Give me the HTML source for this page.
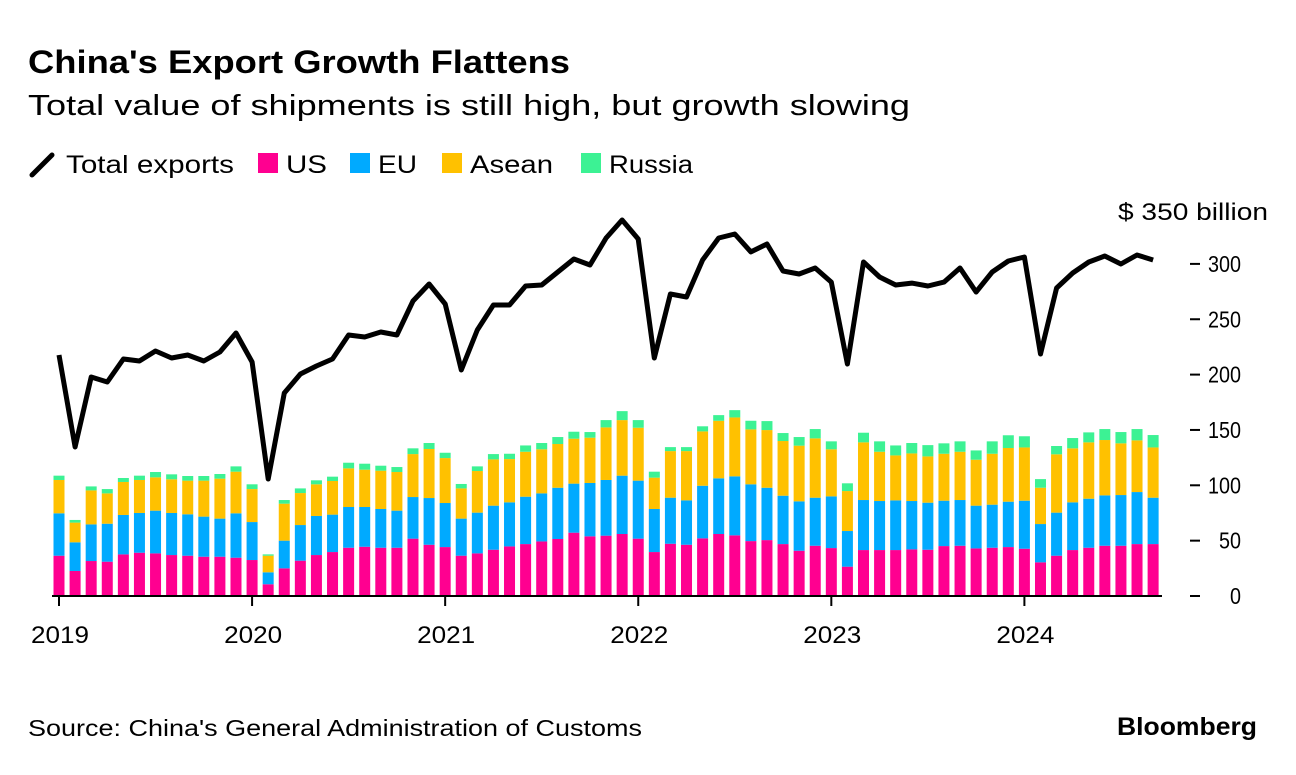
<!DOCTYPE html>
<html><head><meta charset="utf-8"><style>
body{margin:0;background:#fff;font-family:"Liberation Sans",Arial,sans-serif;}
svg text{font-family:"Liberation Sans",Arial,sans-serif;}
</style></head><body>
<svg id="chart" width="1296" height="770" viewBox="0 0 1296 770" xmlns="http://www.w3.org/2000/svg">
<text x="28" y="73" font-size="32" font-weight="bold" fill="#000" textLength="542" lengthAdjust="spacingAndGlyphs">China's Export Growth Flattens</text>
<text x="28" y="115" font-size="29" fill="#000" textLength="882" lengthAdjust="spacingAndGlyphs">Total value of shipments is still high, but growth slowing</text>
<g>
<line x1="32" y1="175" x2="52" y2="155" stroke="#000" stroke-width="5" stroke-linecap="round"/>
<text x="66" y="173" font-size="25" textLength="168" lengthAdjust="spacingAndGlyphs">Total exports</text>
<rect x="258" y="153" width="20" height="20" fill="#ff0090"/>
<text x="286" y="173" font-size="25" textLength="41" lengthAdjust="spacingAndGlyphs">US</text>
<rect x="350" y="153" width="20" height="20" fill="#00aaff"/>
<text x="378" y="173" font-size="25" textLength="39" lengthAdjust="spacingAndGlyphs">EU</text>
<rect x="442" y="153" width="20" height="20" fill="#ffc100"/>
<text x="470" y="173" font-size="25" textLength="83" lengthAdjust="spacingAndGlyphs">Asean</text>
<rect x="581" y="153" width="20" height="20" fill="#3cf294"/>
<text x="609" y="173" font-size="25" textLength="84" lengthAdjust="spacingAndGlyphs">Russia</text>
</g>
<text x="1118" y="220" font-size="24" textLength="150" lengthAdjust="spacingAndGlyphs">$ 350 billion</text>
<g id="yaxis"></g>
<g id="bars"></g>
<g id="xaxis"></g>
<path id="line" fill="none" stroke="#000" stroke-width="5" stroke-linejoin="round"/>
<text x="28" y="736" font-size="23" textLength="614" lengthAdjust="spacingAndGlyphs">Source: China's General Administration of Customs</text>
<text x="1117" y="735" font-size="25" font-weight="bold" textLength="140" lengthAdjust="spacingAndGlyphs">Bloomberg</text>
</svg>
<script>
const yTicks=[0,50,100,150,200,250,300];
const yearLabels=["2019","2020","2021","2022","2023","2024"];
const usVals=[36.4,22.6,31.6,31.0,37.6,39.1,38.5,37.0,36.4,35.5,35.5,34.6,32.5,10.6,25.0,31.9,37.0,39.7,43.6,44.5,43.6,43.6,51.8,46.3,44.2,36.4,38.5,41.8,44.8,46.9,49.3,51.5,57.2,53.9,54.5,56.0,51.8,39.7,47.2,46.3,52.1,56.0,54.8,49.6,50.5,46.9,40.9,45.4,43.3,26.5,41.5,41.5,41.5,42.1,41.8,45.1,45.4,43.0,43.6,44.2,42.7,30.4,36.4,41.5,43.6,45.4,45.4,46.9,46.9];
const euVals=[38.3,25.9,33.1,34.3,35.6,35.9,38.6,38.0,37.4,36.2,34.4,40.1,34.3,10.8,25.0,32.2,35.3,33.8,36.8,35.9,35.0,33.5,37.6,42.2,39.8,33.5,36.8,39.8,39.8,42.8,43.4,46.3,44.3,48.2,50.3,52.7,52.4,38.9,41.6,40.1,47.5,50.3,53.3,51.3,47.3,43.7,44.6,43.4,46.7,32.2,45.2,44.3,44.9,43.7,42.5,41.0,41.3,38.6,38.9,41.0,43.4,34.6,38.9,43.1,44.3,45.5,45.8,47.0,41.9];
const aseanVals=[30.1,17.8,30.7,27.4,29.8,29.8,30.1,30.4,30.4,32.5,36.1,37.6,29.8,15.0,33.4,28.9,28.6,30.4,34.9,33.7,34.6,34.9,38.8,44.3,40.6,27.3,37.6,41.8,39.1,40.6,39.8,39.5,40.6,40.9,47.5,50.2,47.8,28.3,42.1,44.5,49.1,52.0,53.2,49.6,52.1,49.4,50.3,53.6,42.5,36.1,52.1,44.5,40.6,43.0,41.8,42.4,43.6,41.5,46.0,48.5,48.1,32.8,52.7,48.8,50.9,50.0,46.7,46.7,45.4];
const russiaVals=[3.9,2.4,3.6,3.9,3.6,3.9,4.8,4.5,4.2,4.2,4.2,4.8,4.3,1.2,3.3,4.2,3.6,3.9,5.1,5.4,4.5,4.5,5.2,5.4,4.8,4.0,4.2,4.8,4.8,5.7,5.7,6.3,6.3,5.1,6.6,8.1,6.9,5.4,3.6,3.6,4.6,5.1,6.6,7.8,8.1,7.2,7.8,8.4,7.2,7.0,8.7,9.4,9.0,9.4,10.2,9.4,9.4,8.4,11.2,11.5,10.1,7.8,7.5,9.3,9.0,9.9,10.2,10.2,11.2];
const totalVals=[217.7,134.6,197.8,193.3,214.1,212.3,221.3,215.0,217.7,212.3,220.4,237.6,211.4,105.7,183.4,200.5,207.8,214.1,235.8,234.0,238.5,235.8,266.5,281.8,263.8,204.2,240.3,262.9,262.9,280.0,280.9,292.7,304.4,299.0,323.4,339.7,322.5,215.0,272.8,270.1,303.5,323.4,327.0,310.8,318.0,293.6,290.9,296.3,283.6,209.6,301.7,288.2,280.9,282.7,280.0,283.6,296.3,274.6,292.7,302.6,306.2,218.6,278.2,291.8,301.7,307.1,299.9,308.0,303.5];

const NS="http://www.w3.org/2000/svg";
const x0=59, monthW=16.09, y0=596, pxPer=1.107, barW=11;
function xs(i){return x0+i*monthW;}
function ys(v){return y0-v*pxPer;}
function mk(tag,attrs,parent){const e=document.createElementNS(NS,tag);for(const k in attrs)e.setAttribute(k,attrs[k]);parent.appendChild(e);return e;}

const yg=document.getElementById('yaxis');
yTicks.forEach(t=>{
  const l=mk('line',{x1:1190,x2:1200,y1:ys(t),y2:ys(t),stroke:'#000','stroke-width':2},yg);
  
  
  const s=String(t);
  const tx=mk('text',{x:1241,y:ys(t)+8,'font-size':23,'text-anchor':'end',textLength:s.length*11,lengthAdjust:'spacingAndGlyphs'},yg);
  tx.textContent=s;
  
  
});

const bg=document.getElementById('bars');
const series=[[usVals,'#ff0090','us'],[euVals,'#00aaff','eu'],[aseanVals,'#ffc100','asean'],[russiaVals,'#3cf294','russia']];
for(let i=0;i<usVals.length;i++){
  let cum=0;
  series.forEach(s=>{
    const v=s[0][i];
    const r=mk('rect',{x:xs(i)-barW/2,y:ys(cum+v),width:barW,height:v*pxPer,fill:s[1]},bg);
    
    
    cum+=v;
  });
}

const xg=document.getElementById('xaxis');
const base=mk('line',{x1:52,x2:1162,y1:y0,y2:y0,stroke:'#000','stroke-width':2},xg);


yearLabels.forEach((lab,k)=>{
  const x=xs(k*12);
  const tk=mk('line',{x1:x,x2:x,y1:y0,y2:y0+10,stroke:'#000','stroke-width':2},xg);
  
  
  const tx=mk('text',{x:x+1,y:643,'font-size':24,'text-anchor':'middle',textLength:58,lengthAdjust:'spacingAndGlyphs'},xg);
  tx.textContent=lab;
  
  
});

document.getElementById('line').setAttribute('d',totalVals.map((v,i)=>(i?'L':'M')+xs(i).toFixed(1)+' '+ys(v).toFixed(1)).join(' '));
</script>
</body></html>
